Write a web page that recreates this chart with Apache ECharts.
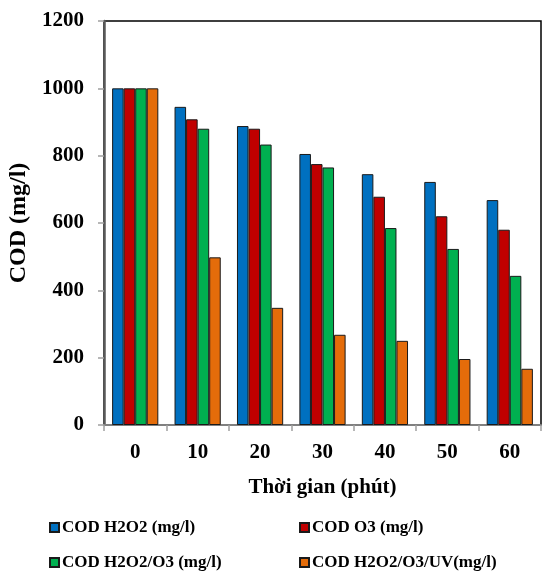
<!DOCTYPE html>
<html>
<head>
<meta charset="utf-8">
<script src="https://cdn.jsdelivr.net/npm/echarts@6/dist/echarts.min.js"></script>
<style>
  html, body { margin: 0; padding: 0; background: #fff; }
  #chart { width: 542px; height: 576px; }
</style>
</head>
<body>
<div id="chart"></div>
<script>
// Reaction time (minutes)
const categories = ['0', '10', '20', '30', '40', '50', '60'];

// COD values (mg/l) for each treatment
const codH2O2 = [1000, 945, 888, 805, 745, 722, 668];
const codO3 = [1000, 908, 880, 775, 678, 620, 580];
const codH2O2O3 = [1000, 880, 833, 765, 585, 523, 443];
const codH2O2O3UV = [1000, 498, 348, 268, 250, 196, 167];

const seriesNames = [
  'COD H2O2 (mg/l)',
  'COD O3 (mg/l)',
  'COD H2O2/O3 (mg/l)',
  'COD H2O2/O3/UV(mg/l)'
];
const seriesData = [codH2O2, codO3, codH2O2O3, codH2O2O3UV];
const colors = ['#0070C0', '#C00000', '#00B050', '#E46C0A'];

const font = '"Liberation Serif", "Times New Roman", serif';

const legendPos = [
  { left: 44, top: 514 },
  { left: 294, top: 514 },
  { left: 44, top: 549 },
  { left: 294, top: 549 }
];

const chart = echarts.init(document.getElementById('chart'), null, { renderer: 'canvas' });

chart.setOption({
  backgroundColor: '#fff',
  animation: false,
  grid: {
    left: 104, right: 1, top: 21, bottom: 151,
    outerBoundsMode: 'none',
    containLabel: false,
    show: true, borderColor: '#000', borderWidth: 1.5, backgroundColor: 'transparent'
  },
  legend: seriesNames.map((n, i) => ({
    data: [n],
    left: legendPos[i].left,
    top: legendPos[i].top,
    icon: 'rect',
    itemWidth: 9,
    itemHeight: 9,
    itemGap: 4,
    textStyle: { fontFamily: font, fontWeight: 'bold', fontSize: 17, color: '#000', padding: [0, 0, 0, -2] }
  })),
  xAxis: {
    type: 'category',
    data: categories,
    name: 'Thời gian (phút)',
    nameLocation: 'middle',
    nameGap: 52,
    nameTextStyle: { fontFamily: font, fontWeight: 'bold', fontSize: 21, color: '#000' },
    axisLine: { show: true, lineStyle: { color: '#808080', width: 2 } },
    axisTick: { show: true, inside: false, length: 6, lineStyle: { color: '#a0a0a0', width: 1.5 } },
    axisLabel: { fontFamily: font, fontWeight: 'bold', fontSize: 21, color: '#000', margin: 17 }
  },
  yAxis: {
    type: 'value',
    min: 0, max: 1200, interval: 200,
    name: 'COD (mg/l)',
    nameLocation: 'middle',
    nameGap: 70,
    nameRotate: 90,
    nameTextStyle: { fontFamily: font, fontWeight: 'bold', fontSize: 24, color: '#000' },
    axisLine: { show: true, lineStyle: { color: '#595959', width: 2.5 } },
    axisTick: { show: true, inside: false, length: 6, lineStyle: { color: '#a0a0a0', width: 1.5 } },
    axisLabel: {
      fontFamily: font, fontWeight: 'bold', fontSize: 21, color: '#000', margin: 20,
      formatter: v => String(v)
    },
    splitLine: { show: false }
  },
  series: seriesNames.map((n, i) => ({
    name: n,
    type: 'bar',
    data: seriesData[i],
    barGap: '0%',
    barCategoryGap: '26%',
    itemStyle: { color: colors[i], borderColor: '#1a1a1a', borderWidth: 1 }
  }))
});
</script>
</body>
</html>
